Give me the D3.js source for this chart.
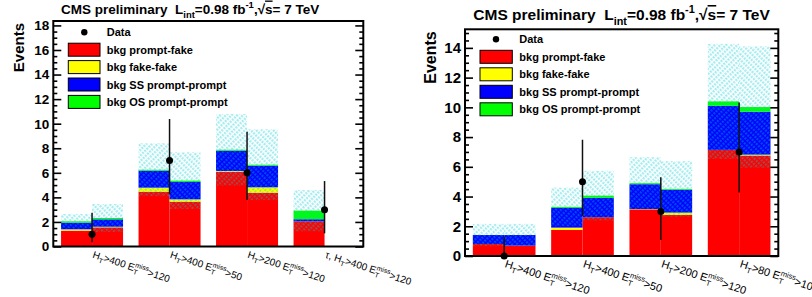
<!DOCTYPE html>
<html>
<head>
<meta charset="utf-8">
<script src="https://cdn.jsdelivr.net/npm/d3@7"></script>
<style>
  body { margin: 0; background: #fff; }
  svg { display: block; font-family: "Liberation Sans", Arial, Helvetica, sans-serif; }
</style>
</head>
<body>
<div id="chart"></div>
<script>
// ---- data ----
var legendLabels = ["bkg prompt-fake", "bkg fake-fake", "bkg SS prompt-prompt", "bkg OS prompt-prompt"];
var stackColors = ["#ff0000", "#ffff00", "#0000ff", "#00ff00"];
var titleText = "CMS preliminary  L_{int}=0.98 fb^{-1},√{s}= 7 TeV";

// left plot: 4 regions, two prediction bars each (A, B)
var leftGroups = ["H_{T}>400 E_{T}^{miss}>120", "H_{T}>400 E_{T}^{miss}>50", "H_{T}>200 E_{T}^{miss}>120", "τ, H_{T}>400 E_{T}^{miss}>120"];
var leftPromptFake = [1.29, 1.56, 4.46, 3.65, 6.09, 4.38, 2.05, 0];
var leftFakeFake   = [0.11, 0.05, 0.33, 0.19, 0.06, 0.44, 0, 0];
var leftSSPrompt   = [0.54, 0.60, 1.38, 1.41, 1.65, 1.76, 0.17, 0];
var leftOSPrompt   = [0.11, 0.11, 0.08, 0.11, 0.08, 0.08, 0.70, 0];
var leftBkgErr     = [0.60, 1.14, 2.15, 2.31, 2.91, 2.88, 1.68, 0];
var leftData       = [1, 7, 6, 3];
var leftDataLo     = [0.66, 2.75, 2.21, 1.93];
var leftDataHi     = [1.75, 3.38, 3.35, 2.33];

// right plot
var rightGroups = ["H_{T}>400 E_{T}^{miss}>120", "H_{T}>400 E_{T}^{miss}>50", "H_{T}>200 E_{T}^{miss}>120", "H_{T}>80 E_{T}^{miss}>100"];
var rightPromptFake = [0.81, 0.70, 1.75, 2.61, 3.14, 2.76, 7.14, 6.76];
var rightFakeFake   = [0, 0, 0.16, 0, 0.02, 0.16, 0, 0.06];
var rightSSPrompt   = [0.60, 0.71, 1.32, 1.30, 1.67, 1.53, 2.96, 2.88];
var rightOSPrompt   = [0, 0, 0.07, 0.15, 0.07, 0.06, 0.30, 0.32];
var rightBkgErr     = [0.75, 0.75, 1.30, 1.67, 1.75, 1.87, 3.87, 4.08];
var rightData       = [0, 5, 3, 7];
var rightDataLo     = [0, 2.30, 1.92, 2.73];
var rightDataHi     = [1.30, 2.82, 2.30, 3.33];

var W = 812, H = 297;

var panels = [
  { frame: {x0: 53.3, x1: 363.3, y0: 21, y1: 246.5}, yMax: 18.36, yTop: 18,
    tickFont: 13.5, titleFont: 13.5, titleX: 61, titleY: 13.5,
    axisFont: 15, axisTitleX: 23.5, labelFont: 10,
    legend: {dotX: 84.3, y: 32.3, boxX: 68.3, boxW: 31.7, textX: 106.7, step: 17.4},
    groups: leftGroups, stack: [leftPromptFake, leftFakeFake, leftSSPrompt, leftOSPrompt],
    err: leftBkgErr, data: leftData, lo: leftDataLo, hi: leftDataHi },
  { frame: {x0: 465, x1: 778.3, y0: 29.3, y1: 256}, yMax: 15.25, yTop: 14,
    tickFont: 15, titleFont: 15.5, titleX: 473.3, titleY: 20,
    axisFont: 16, axisTitleX: 436, labelFont: 11,
    legend: {dotX: 496, y: 39.3, boxX: 480, boxW: 32.3, textX: 519.3, step: 17.5},
    groups: rightGroups, stack: [rightPromptFake, rightFakeFake, rightSSPrompt, rightOSPrompt],
    err: rightBkgErr, data: rightData, lo: rightDataLo, hi: rightDataHi }
];

var svg = d3.select("#chart").append("svg")
  .attr("width", W).attr("height", H)
  .style("background-color", "white");

// hatch patterns for the background uncertainty band (\\\ on bar A, /// on bar B)
var defs = svg.append("defs");
[["hatchA", 45], ["hatchB", -45]].forEach(function(p) {
  defs.append("pattern")
    .attr("id", p[0])
    .attr("patternUnits", "userSpaceOnUse")
    .attr("patternTransform", "rotate(" + p[1] + ")")
    .attr("width", 4).attr("height", 3)
    .append("line")
    .attr("x1", 0).attr("x2", 4)
    .attr("y1", 1).attr("y2", 1)
    .attr("stroke", "#00c8d2")
    .attr("stroke-opacity", 0.65)
    .attr("stroke-width", 1.1)
    .attr("stroke-dasharray", "2.5,1.5");
});

// ROOT-like latex: _{sub}, ^{sup}, stacked _{}^{} and √{x}
function richText(sel, str, size) {
  var re = /(_\{[^}]*\}\^\{[^}]*\}|_\{[^}]*\}|\^\{[^}]*\}|√\{[^}]*\})/;
  var parts = str.split(re).filter(function(s) { return s.length; });
  var shift = 0;
  var small = size * 0.7, down = size * 0.3, up = -size * 0.42;
  parts.forEach(function(p) {
    var m;
    if ((m = p.match(/^_\{(.*)\}\^\{(.*)\}$/))) {
      var sub = sel.append("tspan").attr("font-size", small).attr("dy", down - shift).text(m[1]);
      var w = sub.node().getComputedTextLength();
      sel.append("tspan").attr("font-size", small).attr("dx", -w).attr("dy", up - down).text(m[2]);
      shift = up;
    } else if ((m = p.match(/^_\{(.*)\}$/))) {
      sel.append("tspan").attr("font-size", small).attr("dy", down - shift).text(m[1]);
      shift = down;
    } else if ((m = p.match(/^\^\{(.*)\}$/))) {
      sel.append("tspan").attr("font-size", small).attr("dy", up - shift).text(m[1]);
      shift = up;
    } else if ((m = p.match(/^√\{(.*)\}$/))) {
      sel.append("tspan").attr("font-size", size).attr("dy", -shift).text("√");
      sel.append("tspan").attr("font-size", size).style("text-decoration", "overline").text(m[1]);
      shift = 0;
    } else {
      sel.append("tspan").attr("font-size", size).attr("dy", -shift).text(p);
      shift = 0;
    }
  });
}

panels.forEach(function(P) {
  var f = P.frame;
  var g = svg.append("g");

  var x = d3.scaleLinear().domain([0, P.groups.length]).range([f.x0, f.x1]);
  var y = d3.scaleLinear().domain([0, P.yMax]).range([f.y1, f.y0]);

  // stacked table, one row per bar
  var rows = P.stack[0].map(function(d, j) {
    return { bar: j, pf: P.stack[0][j], ff: P.stack[1][j], ss: P.stack[2][j], os: P.stack[3][j] };
  });
  var keys = ["pf", "ff", "ss", "os"];
  var series = d3.stack().keys(keys)(rows);

  function barX(j) { return Math.floor(j / 2) + 0.1 + 0.4 * (j % 2); }

  series.forEach(function(s, k) {
    g.append("g").selectAll("rect")
      .data(s)
      .enter()
      .append("rect")
      .attr("x", function(d, j) { return x(barX(j)); })
      .attr("width", function(d, j) { return x(barX(j) + 0.4) - x(barX(j)); })
      .attr("y", function(d) { return y(d[1]); })
      .attr("height", function(d) { return y(d[0]) - y(d[1]); })
      .style("fill", stackColors[k]);
  });

  // uncertainty band around the total
  var totals = rows.map(function(r) { return r.pf + r.ff + r.ss + r.os; });
  g.append("g").selectAll("rect")
    .data(totals)
    .enter()
    .append("rect")
    .attr("x", function(d, j) { return x(barX(j)); })
    .attr("width", function(d, j) { return x(barX(j) + 0.4) - x(barX(j)); })
    .attr("y", function(d, j) { return y(d + P.err[j]); })
    .attr("height", function(d, j) { return y(Math.max(0, d - P.err[j])) - y(d + P.err[j]); })
    .style("fill", function(d, j) { return j % 2 ? "url(#hatchB)" : "url(#hatchA)"; });

  // data with errors
  var pts = g.append("g").selectAll("g")
    .data(P.data)
    .enter()
    .append("g");
  pts.append("line")
    .attr("x1", function(d, i) { return x(i + 0.5); })
    .attr("x2", function(d, i) { return x(i + 0.5); })
    .attr("y1", function(d, i) { return y(d - P.lo[i]); })
    .attr("y2", function(d, i) { return y(d + P.hi[i]); })
    .attr("stroke", "#111")
    .attr("stroke-width", 1.5);
  pts.append("circle")
    .attr("cx", function(d, i) { return x(i + 0.5); })
    .attr("cy", function(d) { return y(d); })
    .attr("r", 3.5)
    .style("fill", "black");

  // y axis ticks, ROOT style: inward on both sides
  var major = d3.range(0, P.yTop + 1, 2);
  var minor = d3.range(0, P.yMax, 0.5).filter(function(v) { return v % 2 !== 0; });

  var axL = g.append("g").attr("transform", "translate(" + f.x0 + ",0)")
    .call(d3.axisLeft(y).tickValues(major).tickSize(-8).tickPadding(4).tickFormat(d3.format("d")));
  axL.selectAll("text").style("font-size", P.tickFont + "px").style("font-weight", "bold").attr("fill", "black");
  g.append("g").attr("transform", "translate(" + f.x0 + ",0)")
    .call(d3.axisLeft(y).tickValues(minor).tickSize(-4).tickFormat(""));
  g.append("g").attr("transform", "translate(" + f.x1 + ",0)")
    .call(d3.axisRight(y).tickValues(major).tickSize(-8).tickFormat(""));
  g.append("g").attr("transform", "translate(" + f.x1 + ",0)")
    .call(d3.axisRight(y).tickValues(minor).tickSize(-4).tickFormat(""));
  g.selectAll(".domain").remove();
  g.selectAll(".tick line").attr("stroke", "black").attr("stroke-width", 1.6);

  // frame
  g.append("rect")
    .attr("x", f.x0).attr("y", f.y0)
    .attr("width", f.x1 - f.x0).attr("height", f.y1 - f.y0)
    .attr("fill", "none").attr("stroke", "black").attr("stroke-width", 2);

  // y title
  g.append("text")
    .attr("transform", "translate(" + P.axisTitleX + "," + (f.y0 + 2) + ") rotate(-90)")
    .style("text-anchor", "end")
    .style("font-weight", "bold")
    .style("font-size", P.axisFont + "px")
    .text("Events");

  // rotated region labels
  P.groups.forEach(function(lab, i) {
    var t = g.append("text")
      .attr("transform", "translate(" + x(i + 0.5) + "," + (f.y1 + 11) + ") rotate(18)")
      .style("text-anchor", "start");
    richText(t, lab, P.labelFont);
  });

  // title
  var tt = g.append("text")
    .attr("x", P.titleX).attr("y", P.titleY)
    .attr("xml:space", "preserve")
    .style("white-space", "pre")
    .style("font-weight", "bold");
  richText(tt, titleText, P.titleFont);

  // legend
  var L = P.legend;
  g.append("circle").attr("cx", L.dotX).attr("cy", L.y).attr("r", 3.2).style("fill", "black");
  g.append("text").attr("x", L.textX).attr("y", L.y + 4)
    .style("font-weight", "bold").style("font-size", "11px").text("Data");
  legendLabels.forEach(function(lab, k) {
    var cy = L.y + L.step * (k + 1);
    g.append("rect")
      .attr("x", L.boxX).attr("y", cy - 6.5)
      .attr("width", L.boxW).attr("height", 13)
      .style("fill", stackColors[k]).attr("stroke", "black").attr("stroke-width", 1);
    g.append("text").attr("x", L.textX).attr("y", cy + 4)
      .style("font-weight", "bold").style("font-size", "11px").text(lab);
  });
});
</script>
</body>
</html>
